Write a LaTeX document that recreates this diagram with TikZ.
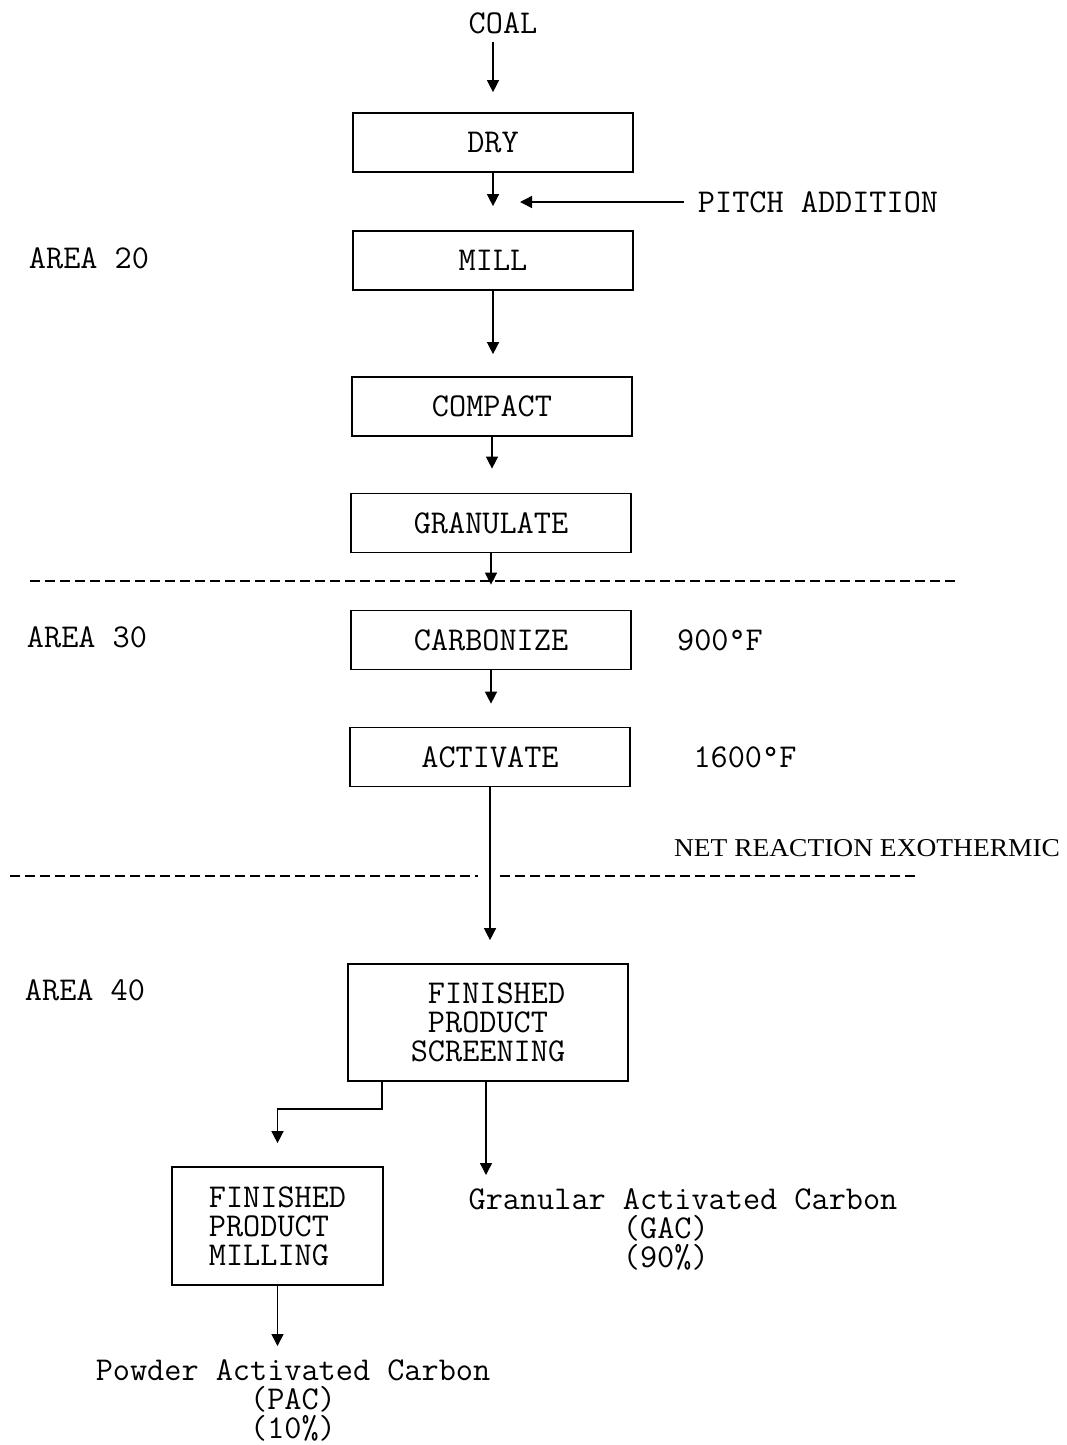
\documentclass[tikz,border=0pt]{standalone}
\usepackage{fontspec}
\newfontfamily\netfont{Liberation Serif}
\usetikzlibrary{arrows.meta,positioning}

\begin{document}
\begin{tikzpicture}[x=1pt, y=-1pt,
		every node/.style={font=\ttfamily\fontsize{33.3}{29}\selectfont, inner sep=0pt},
		stepbox/.style={draw, line width=1.7pt, minimum width=280pt, minimum height=59pt},
		flow/.style={line width=1.4pt, -{Triangle[width=12pt,length=12pt]}},
		arealine/.style={line width=2pt, dash pattern=on 10pt off 5pt}]
	\useasboundingbox (0,0) rectangle (1067,1445);
	% area boundaries
	\draw[arealine] (30,581) -- (955,581);
	\draw[arealine] (10,876) -- (478,876);
	\draw[arealine] (500,876) -- (918,876);
	\node (a20) at (89,258) {AREA 20};
	\node (a30) at (87,637) {AREA 30};
	\node (a40) at (85,990) {AREA 40};
	% process steps
	\node (coal) at (503,23) {COAL};
	\node[stepbox] (dry) at (493,142.5) {DRY};
	\node[stepbox] (mill) at (493,260.5) {MILL};
	\node[stepbox] (compact) at (492,406.5) {COMPACT};
	\node[stepbox] (granulate) at (491,523) {GRANULATE};
	\node[stepbox] (carbonize) at (491,640) {CARBONIZE};
	\node[stepbox] (activate) at (490,757) {ACTIVATE};
	\node[stepbox, minimum height=117pt, align=left] (screen) at (488,1022.5)
		{\hphantom{S}FINISHED\\\hphantom{S}PRODUCT\\SCREENING};
	\node[stepbox, minimum width=211pt, minimum height=118pt, align=left] (pmill) at (277.5,1226)
		{FINISHED\\PRODUCT\\MILLING};
	\coordinate (join) at (493,202);
	\node (pitch) at (818,202) {PITCH ADDITION};
	\node (t900) at (720,640) {900°F};
	\node (t1600) at (745,757) {1600°F};
	\node (net) at (867,848) {\resizebox{386pt}{17pt}{\netfont NET REACTION EXOTHERMIC}};
	\node[anchor=north, align=left] (gac) at (683,1188)
		{Granular Activated Carbon\\\hphantom{Granular0}(GAC)\\\hphantom{Granular0}(90\%)};
	\node[anchor=north, align=center] (pac) at (293,1359)
		{Powder Activated Carbon\\(PAC)\\(10\%)};
	% flow arrows
	\draw[flow, shorten <=8pt, shorten >=20pt] (coal.south -| dry.north) -- (dry.north);
	\draw[flow, shorten >=24pt] (dry) -- (dry |- mill.north);
	\draw[flow, shorten <=14pt, shorten >=27pt] (pitch.west) -- (join);
	\draw[flow, shorten >=22pt] (mill) -- (mill |- compact.north);
	\draw[flow, shorten >=24pt] (compact) -- (compact |- granulate.north);
	\draw[flow, shorten >=25pt] (granulate) -- (granulate |- carbonize.north);
	\draw[flow, shorten >=23pt] (carbonize) -- (carbonize |- activate.north);
	\draw[flow, shorten >=23pt] (activate) -- (activate |- screen.north);
	\draw[flow, shorten >=23pt] ([xshift=-106pt]screen.south) -- ++(0,27) -| (pmill.north);
	\draw[flow, shorten >=13pt] ([xshift=-2pt]screen.south) -- ([xshift=-2pt]screen.south |- gac.north);
	\draw[flow, shorten >=13pt] (pmill) -- (pmill |- pac.north);
\end{tikzpicture}
\end{document}
